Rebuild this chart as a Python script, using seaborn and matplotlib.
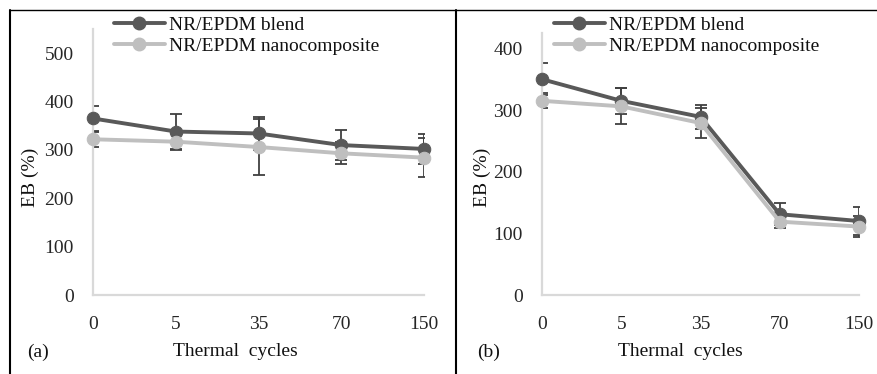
import numpy as np
import pandas as pd
import matplotlib.pyplot as plt
import seaborn as sns
from matplotlib.lines import Line2D

# thermal cycle categories
cycles = ['0', '5', '35', '70', '150']

# (a) EB values and error
a_blend = [365, 338, 334, 310, 302]
a_blend_err = [25, 36, 34, 31, 31]
a_nano = [322, 317, 306, 293, 284]
a_nano_err = [15, 18, 57, 23, 40]

# (b) EB values and error
b_blend = [350, 315, 289, 131, 120]
b_blend_err = [26, 21, 20, 18, 22]
b_nano = [315, 306, 279, 119, 111]
b_nano_err = [12, 29, 24, 10, 17]

labels = ['NR/EPDM blend', 'NR/EPDM nanocomposite']
colors = ['#595959', '#bfbfbf']
err_color = '#404040'

sns.set_style('white')
plt.rcParams['font.family'] = ['Liberation Serif', 'DejaVu Serif']
plt.rcParams['text.color'] = '#111111'
FS = 14

W, H = 877, 374
fig = plt.figure(figsize=(W / 100, H / 100), dpi=100)


def fx(px):
    return px / W


def fy(py):
    return 1 - py / H


def panel(rect, blend, blend_err, nano, nano_err, ymax, yticks):
    ax = fig.add_axes(rect)
    pos = np.arange(len(cycles))
    for vals, err, lab, col in [(blend, blend_err, labels[0], colors[0]),
                                (nano, nano_err, labels[1], colors[1])]:
        ax.errorbar(pos, vals, yerr=err, fmt='none', ecolor=err_color,
                    elinewidth=1.3, capsize=4, capthick=1.3, zorder=2)
        df = pd.DataFrame({'cycles': cycles, 'EB': vals})
        sns.lineplot(data=df, x='cycles', y='EB', ax=ax, color=col,
                     linewidth=2.8, marker='o', markersize=9,
                     markeredgecolor=col, clip_on=False, zorder=3)
    ax.set_xlim(0, len(cycles) - 1)
    ax.set_ylim(0, ymax)
    ax.set_yticks(yticks)
    ax.set_xticks(pos)
    ax.set_xticklabels(cycles)
    ax.set_xlabel('')
    ax.set_ylabel('')
    for s in ['top', 'right']:
        ax.spines[s].set_visible(False)
    for s in ['left', 'bottom']:
        ax.spines[s].set_color('#d9d9d9')
        ax.spines[s].set_linewidth(1.6)
    ax.tick_params(axis='y', length=0, pad=14, labelsize=FS)
    ax.tick_params(axis='x', length=0, pad=15, labelsize=FS)
    return ax


ax_a = panel([fx(93), fy(295), fx(424) - fx(93), fy(29) - fy(295)],
             a_blend, a_blend_err, a_nano, a_nano_err, 550, range(0, 501, 100))
ax_b = panel([fx(542), fy(295), fx(859) - fx(542), fy(33) - fy(295)],
             b_blend, b_blend_err, b_nano, b_nano_err, 425, range(0, 401, 100))

handles = [Line2D([], [], color=c, lw=2.8, marker='o', markersize=9) for c in colors]
for ax, lx in [(ax_a, 114), (ax_b, 554)]:
    ax.legend(handles, labels, loc='upper left', bbox_to_anchor=(fx(lx), fy(16)),
              bbox_transform=fig.transFigure, frameon=False, fontsize=FS,
              handlelength=2.6, handletextpad=0.25, labelspacing=0.2,
              borderpad=0, borderaxespad=0)

# axis titles and panel tags
fig.text(fx(30), fy(177), 'EB (%)', rotation=90, ha='center', va='center', fontsize=FS)
fig.text(fx(482), fy(177), 'EB (%)', rotation=90, ha='center', va='center', fontsize=FS)
fig.text(fx(235), fy(352), 'Thermal  cycles', ha='center', va='center', fontsize=FS)
fig.text(fx(680), fy(352), 'Thermal  cycles', ha='center', va='center', fontsize=FS)
fig.text(fx(38), fy(352), '(a)', ha='center', va='center', fontsize=FS)
fig.text(fx(489), fy(352), '(b)', ha='center', va='center', fontsize=FS)

# outer frame lines
fig.add_artist(Line2D([fx(10), 1], [fy(10), fy(10)], color='black', lw=1.0))
fig.add_artist(Line2D([fx(10), fx(10)], [fy(10), 0], color='black', lw=1.5))
fig.add_artist(Line2D([fx(456), fx(456)], [fy(10), 0], color='black', lw=1.5))

fig.savefig('out.png', dpi=100)
